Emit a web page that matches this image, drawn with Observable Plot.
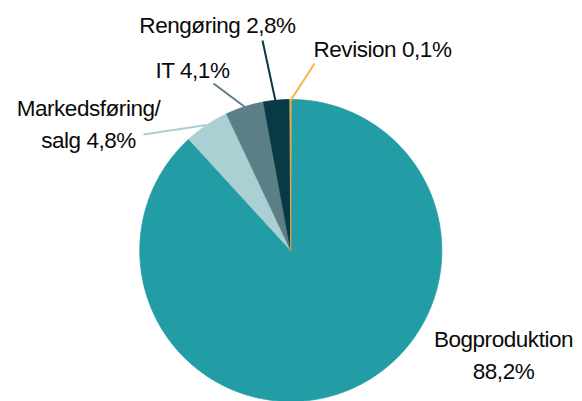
<!DOCTYPE html>
<html>
<head>
<meta charset="utf-8">
<script src="https://cdn.jsdelivr.net/npm/d3@7"></script>
<script src="https://cdn.jsdelivr.net/npm/@observablehq/plot@0.6"></script>
<style>
  html, body { margin: 0; padding: 0; background: #fff; }
  #chart svg { display: block; }
</style>
</head>
<body>
<div id="chart"></div>
<script>
// ---- data ----
const categories = ["Bogproduktion", "Markedsføring/salg", "IT", "Rengøring", "Revision"];
const values = [88.2, 4.8, 4.1, 2.8, 0.1];
const labels = ["Bogproduktion\n88,2%", "Markedsføring/\nsalg 4,8%", "IT 4,1%", "Rengøring 2,8%", "Revision 0,1%"];
const colors = ["#229ca5", "#abd0d3", "#5b7f85", "#073a44", "#f8b34a"];

// ---- layout (pixels) ----
const W = 582, H = 401;
const cx = 290.3, cy = 250, R = 151;
const FS = 22.5, LH = 1.42;
// leader line start radius (fraction) and end point
const leaderStartR = [null, 1.0, 1.0, 0.93, 0.99];
const leaderEnd = [null, [143, 134], [213, 83], [262, 40], [314, 63]];
// label anchor x and first-line baseline y
const labelPos = [[503, 347], [88, 116], [155, 78], [217, 33], [313, 57]];
const labelAnchor = ["middle", "middle", "start", "middle", "start"];

// pixel -> data units (unit circle)
const toX = px => (px - cx) / R;
const toY = py => (cy - py) / R;

// pie angles (clockwise from 12 o'clock)
const arcs = d3.pie().sort(null).value(d => d)(values);

const slicePts = [];
arcs.forEach((a, i) => {
  const n = Math.max(2, Math.ceil((a.endAngle - a.startAngle) / (Math.PI / 360)));
  slicePts.push({cat: categories[i], x: 0, y: 0});
  for (let k = 0; k <= n; k++) {
    const t = a.startAngle + (a.endAngle - a.startAngle) * k / n;
    slicePts.push({cat: categories[i], x: Math.sin(t), y: Math.cos(t)});
  }
});

const leaders = [];
arcs.forEach((a, i) => {
  if (!leaderEnd[i]) return;
  const m = (a.startAngle + a.endAngle) / 2;
  const r = leaderStartR[i];
  leaders.push({cat: categories[i], x1: r * Math.sin(m), y1: r * Math.cos(m),
                x2: toX(leaderEnd[i][0]), y2: toY(leaderEnd[i][1])});
});

// Plot's lineAnchor "top" puts the first baseline at 0.71 * lineHeight em below y
const topOffset = 0.71 * LH * FS;
const labelData = labels.map((t, i) => ({text: t, x: toX(labelPos[i][0]), y: toY(labelPos[i][1] - topOffset), anchor: labelAnchor[i]}));

const textOpts = {x: "x", y: "y", text: "text", lineAnchor: "top", lineHeight: LH, fontSize: FS, fill: "#0a0a0a"};

const plot = Plot.plot({
  width: W, height: H,
  margin: 0,
  x: {domain: [toX(0), toX(W)], axis: null},
  y: {domain: [toY(H), toY(0)], axis: null},
  color: {domain: categories, range: colors},
  style: {fontFamily: "'Liberation Sans', Arial, sans-serif", background: "#fff"},
  marks: [
    Plot.line(slicePts, {x: "x", y: "y", z: "cat", fill: "cat", stroke: "cat", strokeWidth: 0.8, curve: "linear-closed"}),
    Plot.link(leaders, {x1: "x1", y1: "y1", x2: "x2", y2: "y2", stroke: "cat", strokeWidth: 2}),
    Plot.text(labelData.filter(d => d.anchor === "middle"), {...textOpts, textAnchor: "middle"}),
    Plot.text(labelData.filter(d => d.anchor === "start"), {...textOpts, textAnchor: "start"})
  ]
});
plot.querySelectorAll("text").forEach(t => t.style.letterSpacing = "-0.45px");
document.getElementById("chart").appendChild(plot);
</script>
</body>
</html>
